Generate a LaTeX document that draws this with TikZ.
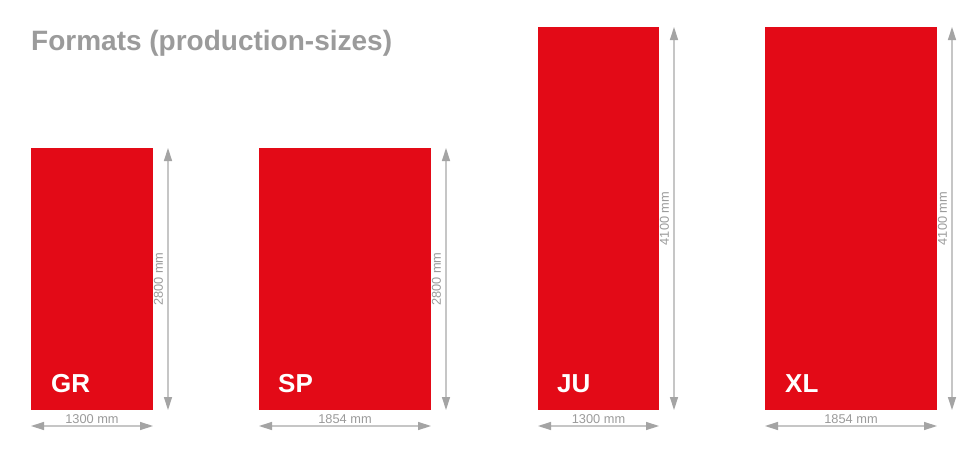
\documentclass[tikz,border=0pt]{standalone}
\usepackage{fontspec}
\setmainfont{Liberation Sans}
\usetikzlibrary{arrows.meta,calc}
\definecolor{fmtred}{HTML}{E30A17}
\definecolor{dimgray}{HTML}{A4A4A4}
\definecolor{dimline}{HTML}{C6C6C6}
\definecolor{titlegray}{HTML}{9B9B9B}
\begin{document}
\begin{tikzpicture}[x=1pt,y=-1pt,
  panel/.style={fill=fmtred, draw=none, inner sep=0pt, outer sep=0pt, anchor=north west},
  code/.style={text=white, font=\fontsize{26}{26}\selectfont\bfseries, anchor=base west, inner sep=0pt},
  dimarrow/.style={draw=dimline, line width=1.4pt,
    {Triangle[length=13pt,width=8pt,color=dimgray,fill=dimgray]}-{Triangle[length=13pt,width=8pt,color=dimgray,fill=dimgray]}},
  dimtext/.style={text=titlegray, font=\fontsize{12.8}{12.8}\selectfont, inner sep=0pt},
  titletext/.style={text=titlegray, font=\fontsize{28}{28}\selectfont\bfseries, anchor=base west, inner sep=0pt}]
\useasboundingbox (0,0) rectangle (978,450);
\fill[white] (0,0) rectangle (978,450);

\node[titletext] (title) at (31,50) {Formats (production-sizes)};

% panels
\node[panel, minimum width=122pt, minimum height=262pt] (gr) at (31,148) {};
\node[panel, minimum width=172pt, minimum height=262pt] (sp) at (259,148) {};
\node[panel, minimum width=121pt, minimum height=383pt] (ju) at (538,27) {};
\node[panel, minimum width=172pt, minimum height=383pt] (xl) at (765,27) {};

% codes
\node[code] (grc) at ($(gr.south west)+(20,-18)$) {GR};
\node[code] (spc) at ($(sp.south west)+(19,-18)$) {SP};
\node[code] (juc) at ($(ju.south west)+(19,-18)$) {JU};
\node[code] (xlc) at ($(xl.south west)+(20,-18)$) {XL};

% dimensions
\foreach \p/\w/\h in {gr/1300/2800, sp/1854/2800, ju/1300/4100, xl/1854/4100}{
  \coordinate (\p hl) at ($(\p.south west)+(0,16)$);
  \coordinate (\p hr) at ($(\p.south east)+(0,16)$);
  \coordinate (\p vt) at ($(\p.north east)+(15,0)$);
  \coordinate (\p vb) at ($(\p.south east)+(15,0)$);
  \draw[dimarrow] (\p hl) -- (\p hr);
  \draw[dimarrow] (\p vt) -- (\p vb);
  \node[dimtext, anchor=base] (\p wl) at ($(\p.south)+(0,13)$) {\w\ mm};
  \node[dimtext, rotate=90, anchor=center] (\p hlab) at ($(\p.east)+(5.5,0)$) {\h\ mm};
}
\end{tikzpicture}
\end{document}
